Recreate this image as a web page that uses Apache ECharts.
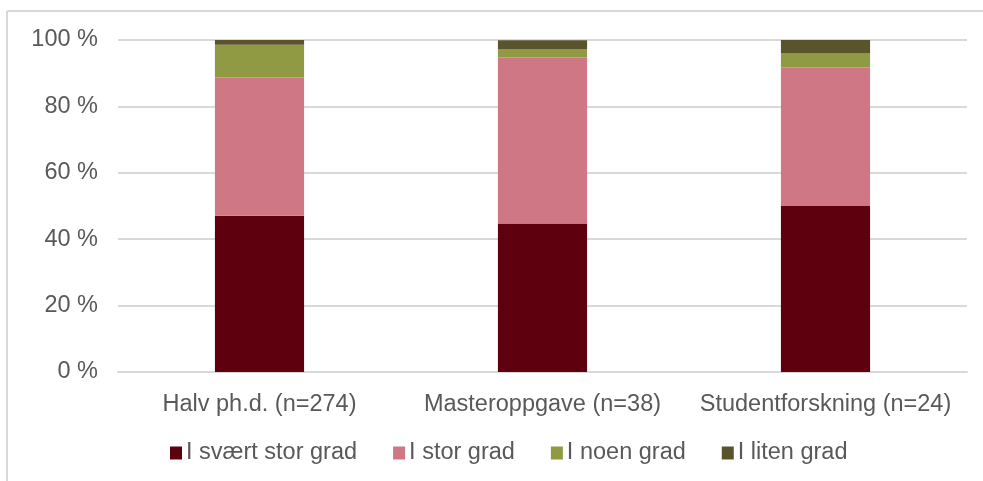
<!DOCTYPE html>
<html>
<head>
<meta charset="utf-8">
<script src="https://cdn.jsdelivr.net/npm/echarts@6/dist/echarts.min.js"></script>
<style>
  html, body { margin: 0; padding: 0; background: #fff; }
  #chart { width: 983px; height: 481px; }
</style>
</head>
<body>
<div id="chart"></div>
<script>
const categories = ['Halv ph.d. (n=274)', 'Masteroppgave (n=38)', 'Studentforskning (n=24)']
const seriesNames = ['I svært stor grad', 'I stor grad', 'I noen grad', 'I liten grad']
const sværtStor = [47.1, 44.7, 50.0]
const stor = [41.6, 50.0, 41.7]
const noen = [9.9, 2.6, 4.2]
const liten = [1.4, 2.6, 4.2]
const colors = ['#5f000f', '#cf7784', '#8f9a42', '#5a542c']
const yTicks = [0, 20, 40, 60, 80, 100]

const font = 'Liberation Sans, Arial, sans-serif'
const chart = echarts.init(document.getElementById('chart'))

const values = [sværtStor, stor, noen, liten]
const series = seriesNames.map((name, i) => ({
  name,
  type: 'bar',
  stack: 'total',
  barWidth: '31.5%',
  data: values[i],
  itemStyle: { color: colors[i] }
}))

chart.setOption({
  animation: false,
  color: colors,
  grid: { left: 118, right: 16, top: 40, bottom: 109 },
  legend: {
    bottom: 11,
    left: 165,
    itemWidth: 12,
    itemHeight: 13,
    itemGap: 36,
    icon: 'rect',
    textStyle: { fontFamily: font, fontSize: 23.5, color: '#595959', padding: [0, 0, 0, -1] },
    data: seriesNames
  },
  xAxis: {
    type: 'category',
    data: categories,
    axisLine: { lineStyle: { color: '#d9d9d9', width: 2 } },
    axisTick: { show: false },
    axisLabel: { fontFamily: font, fontSize: 23.5, color: '#595959', margin: 21, interval: 0, hideOverlap: false }
  },
  yAxis: {
    type: 'value',
    min: yTicks[0],
    max: yTicks[yTicks.length - 1],
    interval: 20,
    axisLine: { show: false },
    axisTick: { show: false },
    splitLine: { lineStyle: { color: '#d9d9d9', width: 2 } },
    axisLabel: {
      fontFamily: font, fontSize: 23.5, color: '#595959', margin: 20,
      formatter: v => v + ' %'
    }
  },
  graphic: [
    { type: 'line', shape: { x1: 7, y1: 11, x2: 983, y2: 11 }, style: { stroke: '#d9d9d9', lineWidth: 2 } },
    { type: 'line', shape: { x1: 7, y1: 11, x2: 7, y2: 481 }, style: { stroke: '#d9d9d9', lineWidth: 2 } }
  ],
  series
})
</script>
</body>
</html>
